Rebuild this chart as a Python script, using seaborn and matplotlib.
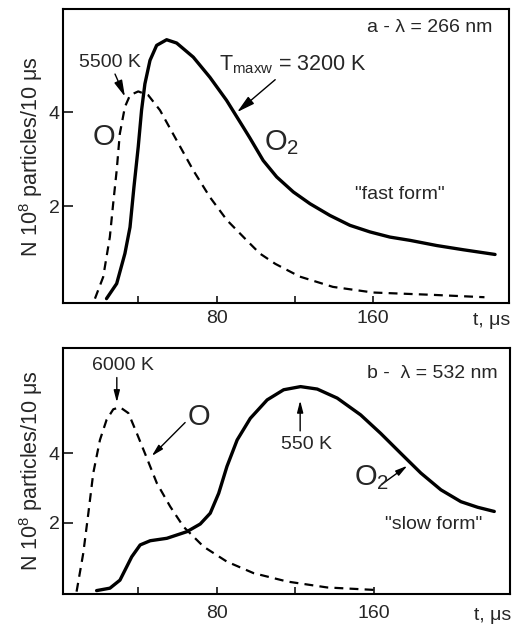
import pandas as pd
import matplotlib
matplotlib.use("Agg")
import matplotlib.pyplot as plt
import seaborn as sns

# panel a - 266 nm
a_o2_t = [23.8, 29.0, 33.2, 35.8, 37.8, 40.0, 41.7, 43.4, 46.0, 49.4, 54.5, 59.6,
          68.1, 76.6, 85.1, 93.6, 97.0, 103.8, 110.7, 119.2, 127.7, 137.9, 148.1,
          158.3, 168.5, 178.8, 192.4, 206.0, 222.2]
a_o2_n = [0.03, 0.35, 0.99, 1.55, 2.40, 3.26, 4.04, 4.60, 5.10, 5.42, 5.54, 5.47,
          5.17, 4.74, 4.25, 3.68, 3.45, 2.97, 2.62, 2.30, 2.05, 1.80, 1.59,
          1.45, 1.34, 1.27, 1.16, 1.07, 0.97]
a_o_t = [17.9, 22.1, 25.5, 27.2, 29.0, 30.6, 33.2, 35.8, 40.0, 45.1, 51.1, 59.6,
         68.1, 76.6, 85.3, 95.4, 102.1, 110.0, 122.4, 139.4, 159.9, 190.5, 216.8]
a_o_n = [0.03, 0.49, 1.34, 2.05, 2.76, 3.54, 4.11, 4.36, 4.44, 4.36, 4.04, 3.40,
         2.76, 2.19, 1.70, 1.27, 0.99, 0.77, 0.50, 0.28, 0.16, 0.11, 0.06]

# panel b - 532 nm
b_o2_t = [18.7, 25.5, 30.6, 34.1, 36.6, 40.9, 46.0, 54.5, 64.7, 71.5, 76.6, 80.9,
          85.1, 90.3, 97.0, 105.6, 114.0, 122.6, 131.1, 141.3, 153.2, 163.4,
          173.6, 183.9, 194.1, 204.3, 212.8, 221.3]
b_o2_n = [0.06, 0.13, 0.36, 0.75, 1.03, 1.37, 1.49, 1.56, 1.75, 1.97, 2.28, 2.85,
          3.62, 4.38, 5.00, 5.53, 5.82, 5.91, 5.84, 5.58, 5.10, 4.57,
          4.00, 3.43, 2.95, 2.61, 2.45, 2.33]
b_o_t = [8.5, 11.9, 14.5, 17.0, 20.4, 23.8, 27.2, 30.6, 34.9, 39.2, 44.3, 49.4,
         56.2, 63.0, 73.2, 85.1, 98.7, 115.8, 136.2, 160.0]
b_o_n = [0.03, 1.13, 2.28, 3.43, 4.38, 4.96, 5.26, 5.32, 5.15, 4.57, 3.86, 3.14,
         2.47, 1.89, 1.32, 0.89, 0.56, 0.32, 0.15, 0.08]

x_ticks = [40, 80, 120, 160]
x_tick_labels = ["", "80", "", "160"]
y_ticks = [2, 4]
y_tick_labels = ["2", "4"]

sns.set_style("ticks")
plt.rcParams["font.family"] = ["Liberation Sans", "DejaVu Sans"]
plt.rcParams["mathtext.fontset"] = "custom"
plt.rcParams["mathtext.rm"] = "Liberation Sans"
plt.rcParams["mathtext.it"] = "Liberation Sans"

fig = plt.figure(figsize=(5.22, 6.28), dpi=100)
ax1 = fig.add_axes([0.120, 0.517, 0.855, 0.468])
ax2 = fig.add_axes([0.120, 0.054, 0.857, 0.392])

arrow = dict(arrowstyle="-|>,head_length=0.7,head_width=0.18", color="black",
             lw=1.0, shrinkA=0, shrinkB=0)


def draw_panel(ax, o2_t, o2_n, o_t, o_n, ylim, pad):
    d_o2 = pd.DataFrame({"t": o2_t, "n": o2_n})
    d_o = pd.DataFrame({"t": o_t, "n": o_n})
    sns.lineplot(data=d_o2, x="t", y="n", ax=ax, color="black", lw=2.4, sort=False,
                 solid_joinstyle="round")
    sns.lineplot(data=d_o, x="t", y="n", ax=ax, color="black", lw=1.6, sort=False,
                 linestyle=(0, (4, 2.8)))
    ax.set_xlim(1.4, 229.3)
    ax.set_ylim(*ylim)
    ax.set_xticks(x_ticks)
    ax.set_xticklabels(x_tick_labels)
    ax.set_yticks(y_ticks)
    ax.set_yticklabels(y_tick_labels)
    ax.tick_params(axis="x", direction="in", length=5, width=1.3, labelsize=14, pad=pad)
    ax.tick_params(axis="y", direction="in", length=7, width=1.3, labelsize=14, pad=2)
    for s in ax.spines.values():
        s.set_linewidth(1.5)
        s.set_color("black")
    ax.set_xlabel("")
    ax.set_ylabel("N 10$^8$ particles/10 \u03bcs", fontsize=15.5, labelpad=3)
    ax.annotate("t, \u03bcs", xy=(0.962, 0), xycoords="axes fraction",
                xytext=(0, -pad - 1), textcoords="offset points",
                ha="center", va="top", fontsize=14)


draw_panel(ax1, a_o2_t, a_o2_n, a_o_t, a_o_n, (-0.07, 6.185), 5)
draw_panel(ax2, b_o2_t, b_o2_n, b_o_t, b_o_n, (-0.04, 7.02), 8)

# panel a labels
ax1.text(0.962, 0.937, "a - \u03bb = 266 nm", transform=ax1.transAxes,
         ha="right", va="center", fontsize=14)
ax1.annotate("5500 K", xy=(33.2, 4.33), xytext=(25.5, 5.06), ha="center",
             va="center", fontsize=14, arrowprops=arrow)
ax1.annotate("T$_{\\mathrm{maxw}}$ = 3200 K", xy=(90.5, 4.0), xytext=(81.0, 5.0),
             ha="left", va="center", fontsize=15.5, arrowprops=arrow)
ax1.text(22.4, 3.46, "O", ha="center", va="center", fontsize=21)
ax1.text(104, 3.34, "O$_2$", ha="left", va="center", fontsize=21)
ax1.text(173.5, 2.25, '"fast form"', ha="center", va="center", fontsize=14)

# panel b labels
ax2.text(0.973, 0.898, "b -  \u03bb = 532 nm", transform=ax2.transAxes,
         ha="right", va="center", fontsize=14)
ax2.annotate("", xy=(29.0, 5.46), xytext=(29.0, 6.17), arrowprops=arrow)
ax2.text(32.1, 6.51, "6000 K", ha="center", va="center", fontsize=14)
ax2.annotate("", xy=(46.8, 3.92), xytext=(63.8, 4.88), arrowprops=arrow)
ax2.text(70.9, 5.03, "O", ha="center", va="center", fontsize=21)
ax2.annotate("", xy=(122.4, 5.51), xytext=(122.4, 4.64), arrowprops=arrow)
ax2.text(125.5, 4.26, "550 K", ha="center", va="center", fontsize=14)
ax2.annotate("", xy=(177, 3.64), xytext=(164, 3.11), arrowprops=arrow)
ax2.text(150, 3.29, "O$_2$", ha="left", va="center", fontsize=21)
ax2.text(190.3, 1.97, '"slow form"', ha="center", va="center", fontsize=14)

fig.savefig("out.png", dpi=100)
